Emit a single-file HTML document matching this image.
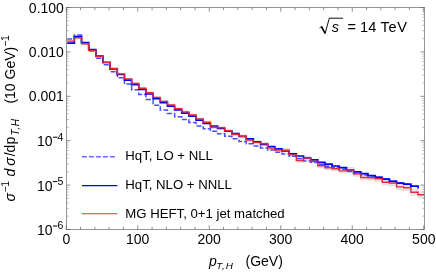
<!DOCTYPE html>
<html><head><meta charset="utf-8"><title>plot</title>
<style>
html,body{margin:0;padding:0;background:#fff;}
body{width:436px;height:273px;overflow:hidden;}
svg{display:block;will-change:transform;}
text{font-family:"Liberation Sans",sans-serif;fill:#000;}
.t{font-size:14px;}
.l{font-size:13.2px;}
.i{font-style:italic;}
</style></head><body>
<svg width="436" height="273" viewBox="0 0 436 273">
<rect width="436" height="273" fill="#fff"/>
<defs><clipPath id="c"><rect x="66.5" y="7.5" width="358.0" height="222.0"/></clipPath></defs>
<g clip-path="url(#c)" fill="none" stroke-linejoin="miter">
<path d="M67.20,40.72L74.36,40.72L74.36,37.31L81.52,37.31L81.52,43.40L88.68,43.40L88.68,49.98L95.84,49.98L95.84,56.06L103.00,56.06L103.00,61.84L110.16,61.84L110.16,67.91L117.32,67.91L117.32,73.38L124.48,73.38L124.48,78.35L131.64,78.35L131.64,82.92L138.80,82.92L138.80,87.68L145.96,87.68L145.96,92.14L153.12,92.14L153.12,96.70L160.28,96.70L160.28,100.66L167.44,100.66L167.44,104.12L174.60,104.12L174.60,107.88L181.76,107.88L181.76,111.03L188.92,111.03L188.92,114.09L196.08,114.09L196.08,117.94L203.24,117.94L203.24,121.19L210.40,121.19L210.40,126.14L217.56,126.14L217.56,126.69L224.72,126.69L224.72,129.64L231.88,129.64L231.88,133.08L239.04,133.08L239.04,134.93L246.20,134.93L246.20,138.77L253.36,138.77L253.36,141.02L260.52,141.02L260.52,142.36L267.68,142.36L267.68,146.65L274.84,146.65L274.84,148.59L282.00,148.59L282.00,148.57L289.16,148.57L289.16,153.16L296.32,153.16L296.32,158.75L303.48,158.75L303.48,156.28L310.64,156.28L310.64,159.32L317.80,159.32L317.80,163.85L324.96,163.85L324.96,165.68L332.12,165.68L332.12,166.61L339.28,166.61L339.28,168.74L346.44,168.74L346.44,167.47L353.60,167.47L353.60,171.60L360.76,171.60L360.76,175.13L367.92,175.13L367.92,175.36L375.08,175.36L375.08,176.28L382.24,176.28L382.24,179.61L389.40,179.61L389.40,180.43L396.56,180.43L396.56,184.16L403.72,184.16L403.72,184.88L410.88,184.88L410.88,189.30L418.04,189.30L418.04,191.72L425.20,191.72L425.20,197.72L418.04,197.72L418.04,195.14L410.88,195.14L410.88,190.56L403.72,190.56L403.72,189.68L396.56,189.68L396.56,185.81L389.40,185.81L389.40,184.83L382.24,184.83L382.24,181.36L375.08,181.36L375.08,180.28L367.92,180.28L367.92,179.91L360.76,179.91L360.76,176.24L353.60,176.24L353.60,171.97L346.44,171.97L346.44,173.10L339.28,173.10L339.28,170.83L332.12,170.83L332.12,169.76L324.96,169.76L324.96,167.79L317.80,167.79L317.80,163.12L310.64,163.12L310.64,159.96L303.48,159.96L303.48,162.29L296.32,162.29L296.32,156.58L289.16,156.58L289.16,151.87L282.00,151.87L282.00,151.75L274.84,151.75L274.84,149.69L267.68,149.69L267.68,145.28L260.52,145.28L260.52,143.82L253.36,143.82L253.36,141.47L246.20,141.47L246.20,137.51L239.04,137.51L239.04,135.56L231.88,135.56L231.88,132.00L224.72,132.00L224.72,128.95L217.56,128.95L217.56,128.30L210.40,128.30L210.40,123.25L203.24,123.25L203.24,119.90L196.08,119.90L196.08,115.95L188.92,115.95L188.92,112.81L181.76,112.81L181.76,109.56L174.60,109.56L174.60,105.72L167.44,105.72L167.44,102.18L160.28,102.18L160.28,98.14L153.12,98.14L153.12,93.50L145.96,93.50L145.96,88.96L138.80,88.96L138.80,84.12L131.64,84.12L131.64,79.49L124.48,79.49L124.48,74.46L117.32,74.46L117.32,68.93L110.16,68.93L110.16,62.80L103.00,62.80L103.00,56.98L95.84,56.98L95.84,50.86L88.68,50.86L88.68,44.24L81.52,44.24L81.52,38.13L74.36,38.13L74.36,41.52L67.20,41.52Z" fill="#f1e6e7" stroke="#d2cccd" stroke-width="0.6"/>
<path d="M67.20,39.02H74.36V35.12H81.52V43.22H88.68V51.02H95.84V58.22H103.00V64.72H110.16V71.72H117.32V77.82H124.48V84.02H131.64V89.82H138.80V94.52H145.96V99.52H153.12V105.22H160.28V110.02H167.44V113.52H174.60V116.82H181.76V119.52H188.92V122.52H196.08V125.92H203.24V128.72H210.40V131.22H217.56V133.82H224.72V136.32H231.88V138.82H239.04V141.42H246.20V143.82H253.36V145.92H260.52V148.02H267.68V150.02H274.84V152.22H282.00V154.02H289.16V156.32H296.32V158.52H303.48V160.92H310.64V162.32H317.80V164.42H324.96V166.22H332.12V167.52H339.28V169.22H346.44V171.42H353.60V173.42H360.76V175.12H367.92V175.72H375.08V177.32H382.24V179.12H389.40V181.32H396.56V183.12H403.72V184.22H410.88V186.22H418.04" stroke="#4c4cff" stroke-width="1.5" stroke-dasharray="5 2"/>
<path d="M67.20,43.22H74.36V36.62H81.52V42.72H88.68V49.72H95.84V56.22H103.00V62.52H110.16V68.82H117.32V74.52H124.48V80.12H131.64V84.72H138.80V89.52H145.96V94.02H153.12V98.62H160.28V102.62H167.44V106.12H174.60V109.92H181.76V113.12H188.92V116.22H196.08V120.12H203.24V123.42H210.40V126.02H217.56V128.52H224.72V131.22H231.88V133.62H239.04V136.32H246.20V138.92H253.36V141.82H260.52V144.32H267.68V146.62H274.84V148.92H282.00V151.02H289.16V153.87H296.32V156.02H303.48V158.02H310.64V159.92H317.80V162.32H324.96V164.22H332.12V166.02H339.28V167.72H346.44V169.92H353.60V171.92H360.76V173.62H367.92V175.72H375.08V177.32H382.24V179.12H389.40V181.32H396.56V183.12H403.72V184.22H410.88V186.22H418.04v2.4" stroke="#0000f5" stroke-width="1.7"/>
<path d="M67.20,41.12H74.36V37.72H81.52V43.82H88.68V50.42H95.84V56.52H103.00V62.32H110.16V68.42H117.32V73.92H124.48V78.92H131.64V83.52H138.80V88.32H145.96V92.82H153.12V97.42H160.28V101.42H167.44V104.92H174.60V108.72H181.76V111.92H188.92V115.02H196.08V118.92H203.24V122.22H210.40V127.22H217.56V127.82H224.72V130.82H231.88V134.32H239.04V136.22H246.20V140.12H253.36V142.42H260.52V143.82H267.68V148.17H274.84V150.17H282.00V150.22H289.16V154.87H296.32V160.52H303.48V158.12H310.64V161.22H317.80V165.82H324.96V167.72H332.12V168.72H339.28V170.92H346.44V169.72H353.60V173.92H360.76V177.52H367.92V177.82H375.08V178.82H382.24V182.22H389.40V183.12H396.56V186.92H403.72V187.72H410.88V192.22H418.04V194.72H425.20" stroke="#dc2c3a" stroke-width="1.4"/>
</g>
<rect x="66.5" y="7.5" width="358.0" height="222.0" fill="none" stroke="#6a6a6a" stroke-width="0.7"/>
<path d="M66.25,229.5v-4.2M66.25,7.5v4.2M80.55,229.5v-2.7M80.55,7.5v2.7M94.85,229.5v-2.7M94.85,7.5v2.7M109.15,229.5v-2.7M109.15,7.5v2.7M123.45,229.5v-2.7M123.45,7.5v2.7M137.75,229.5v-4.2M137.75,7.5v4.2M152.05,229.5v-2.7M152.05,7.5v2.7M166.35,229.5v-2.7M166.35,7.5v2.7M180.65,229.5v-2.7M180.65,7.5v2.7M194.95,229.5v-2.7M194.95,7.5v2.7M209.25,229.5v-4.2M209.25,7.5v4.2M223.55,229.5v-2.7M223.55,7.5v2.7M237.85,229.5v-2.7M237.85,7.5v2.7M252.15,229.5v-2.7M252.15,7.5v2.7M266.45,229.5v-2.7M266.45,7.5v2.7M280.75,229.5v-4.2M280.75,7.5v4.2M295.05,229.5v-2.7M295.05,7.5v2.7M309.35,229.5v-2.7M309.35,7.5v2.7M323.65,229.5v-2.7M323.65,7.5v2.7M337.95,229.5v-2.7M337.95,7.5v2.7M352.25,229.5v-4.2M352.25,7.5v4.2M366.55,229.5v-2.7M366.55,7.5v2.7M380.85,229.5v-2.7M380.85,7.5v2.7M395.15,229.5v-2.7M395.15,7.5v2.7M409.45,229.5v-2.7M409.45,7.5v2.7M423.75,229.5v-4.2M423.75,7.5v4.2M66.5,7.50h4M424.5,7.50h-4M66.5,51.90h4M424.5,51.90h-4M66.5,96.30h4M424.5,96.30h-4M66.5,140.70h4M424.5,140.70h-4M66.5,185.10h4M424.5,185.10h-4M66.5,229.50h4M424.5,229.50h-4" fill="none" stroke="#606060" stroke-width="0.7"/>
<path d="M66.5,38.53h2.0M424.5,38.53h-2.0M66.5,30.72h2.0M424.5,30.72h-2.0M66.5,25.17h2.0M424.5,25.17h-2.0M66.5,20.87h2.0M424.5,20.87h-2.0M66.5,17.35h2.0M424.5,17.35h-2.0M66.5,14.38h2.0M424.5,14.38h-2.0M66.5,11.80h2.0M424.5,11.80h-2.0M66.5,9.53h2.0M424.5,9.53h-2.0M66.5,82.93h2.0M424.5,82.93h-2.0M66.5,75.12h2.0M424.5,75.12h-2.0M66.5,69.57h2.0M424.5,69.57h-2.0M66.5,65.27h2.0M424.5,65.27h-2.0M66.5,61.75h2.0M424.5,61.75h-2.0M66.5,58.78h2.0M424.5,58.78h-2.0M66.5,56.20h2.0M424.5,56.20h-2.0M66.5,53.93h2.0M424.5,53.93h-2.0M66.5,127.33h2.0M424.5,127.33h-2.0M66.5,119.52h2.0M424.5,119.52h-2.0M66.5,113.97h2.0M424.5,113.97h-2.0M66.5,109.67h2.0M424.5,109.67h-2.0M66.5,106.15h2.0M424.5,106.15h-2.0M66.5,103.18h2.0M424.5,103.18h-2.0M66.5,100.60h2.0M424.5,100.60h-2.0M66.5,98.33h2.0M424.5,98.33h-2.0M66.5,171.73h2.0M424.5,171.73h-2.0M66.5,163.92h2.0M424.5,163.92h-2.0M66.5,158.37h2.0M424.5,158.37h-2.0M66.5,154.07h2.0M424.5,154.07h-2.0M66.5,150.55h2.0M424.5,150.55h-2.0M66.5,147.58h2.0M424.5,147.58h-2.0M66.5,145.00h2.0M424.5,145.00h-2.0M66.5,142.73h2.0M424.5,142.73h-2.0M66.5,216.13h2.0M424.5,216.13h-2.0M66.5,208.32h2.0M424.5,208.32h-2.0M66.5,202.77h2.0M424.5,202.77h-2.0M66.5,198.47h2.0M424.5,198.47h-2.0M66.5,194.95h2.0M424.5,194.95h-2.0M66.5,191.98h2.0M424.5,191.98h-2.0M66.5,189.40h2.0M424.5,189.40h-2.0M66.5,187.13h2.0M424.5,187.13h-2.0" fill="none" stroke="#808080" stroke-width="0.6"/>
<g class="t" text-anchor="end">
<text x="63.9" y="12.50">0.100</text>
<text x="63.9" y="56.90">0.010</text>
<text x="63.9" y="101.30">0.001</text>
<text text-anchor="start" x="36.9" y="146.40">10</text><rect x="52.9" y="136.70" width="4.5" height="1.0" fill="#000"/><text text-anchor="start" x="57.5" y="140.60" font-size="10.5">4</text>
<text text-anchor="start" x="36.9" y="190.80">10</text><rect x="52.9" y="181.10" width="4.5" height="1.0" fill="#000"/><text text-anchor="start" x="57.5" y="185.00" font-size="10.5">5</text>
<text text-anchor="start" x="36.9" y="235.20">10</text><rect x="52.9" y="225.50" width="4.5" height="1.0" fill="#000"/><text text-anchor="start" x="57.5" y="229.40" font-size="10.5">6</text>
</g>
<g class="t" text-anchor="middle">
<text x="66.3" y="244.2">0</text>
<text x="137.60" y="244.2">100</text>
<text x="209.10" y="244.2">200</text>
<text x="280.60" y="244.2">300</text>
<text x="352.10" y="244.2">400</text>
<text x="423.80" y="244.2">500</text>
</g>
<g class="t">
<text class="i" x="209.1" y="266.1">p</text>
<text class="i" x="216.2" y="268.9" font-size="9.9" letter-spacing="0.8">T,H</text>
<text x="245.5" y="266.2">(GeV)</text>
</g>
<g class="t" transform="translate(15.2,0) rotate(-90)">
<text class="i" x="-201.4" y="0">σ</text>
<text x="-192.5" y="-6.5" font-size="10.5" letter-spacing="-0.4">−1</text>
<text class="i" x="-176.6" y="0">d</text>
<text class="i" x="-165.8" y="0">σ</text>
<text x="-156.3" y="0">/dp</text>
<text class="i" x="-135.6" y="3.8" font-size="10.1" letter-spacing="0.7">T,H</text>
<text x="-103.6" y="0">(10 GeV)</text>
<text x="-46.8" y="-6.5" font-size="10.5" letter-spacing="-0.4">−1</text>
</g>
<!-- title -->
<g>
<path d="M319.5,27.9L321.5,26.6" fill="none" stroke="#000" stroke-width="0.8"/><path d="M321.4,26.5L325.0,33.2" fill="none" stroke="#000" stroke-width="1.7"/><path d="M325.0,33.9L329.3,18.2H343.0" fill="none" stroke="#000" stroke-width="0.95" stroke-linejoin="miter"/>
<text x="331.8" y="32.0" font-size="14.6" class="i">s</text>
<text x="347.5" y="32.0" font-size="14.6">= 14</text>
<text x="380.6" y="32.0" font-size="14.6" letter-spacing="0.6">TeV</text>
</g>
<!-- legend -->
<g fill="none">
<path d="M81.9,156.8H115.4" stroke="#6a6aff" stroke-width="1.5" stroke-dasharray="5 2"/>
<path d="M81.9,185.6H117.3" stroke="#0000f5" stroke-width="1.35"/>
<path d="M81.9,213.8H117.3" stroke="#ee3030" stroke-width="1.1"/>
</g>
<g class="l">
<text x="125.3" y="160.4">HqT, LO + NLL</text>
<text x="125.3" y="189.3">HqT, NLO + NNLL</text>
<text x="125.3" y="217.9">MG HEFT, 0+1 jet matched</text>
</g>
</svg>
</body></html>
